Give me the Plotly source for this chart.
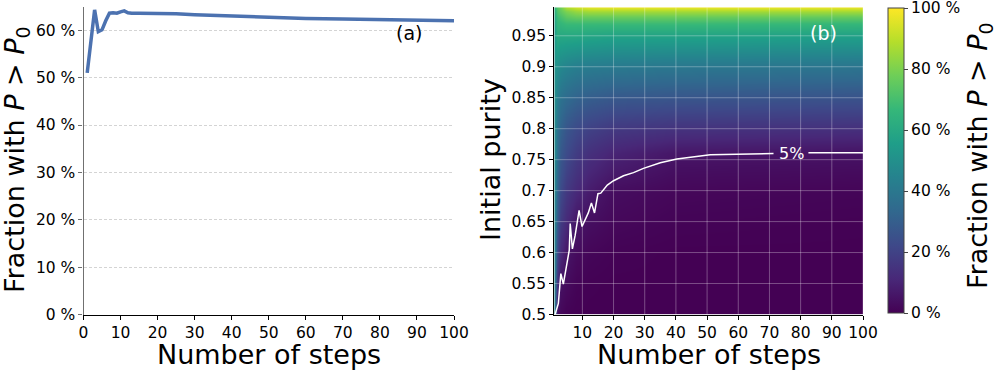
import plotly.graph_objects as go

# panel (a): fraction of runs with P > P0 vs number of steps
steps_a = [1, 2, 3, 4, 5, 6, 7, 8, 9, 10, 11, 12, 13, 15, 20, 25, 30, 40, 50, 60, 70, 80, 90, 100]
frac_a = [51.0, 58.0, 64.3, 59.7, 60.1, 62.0, 63.6, 63.7, 63.6, 63.9, 64.1, 63.7, 63.6, 63.6,
          63.6, 63.5, 63.3, 63.0, 62.7, 62.5, 62.4, 62.3, 62.2, 62.0]

# panel (b): fraction (%) on a coarse grid of steps x initial purity
grid_steps = [1, 2, 3, 5, 8, 12, 20, 40, 100]
grid_purity = [0.5, 0.55, 0.6, 0.65, 0.7, 0.73, 0.76, 0.8, 0.85, 0.9, 0.95, 0.97, 0.98, 0.99, 0.996]
frac_grid = [
    [46, 4, 2, 0.5, 0, 0, 0, 0, 0],
    [46, 14, 5, 3, 1, 0.3, 0, 0, 0],
    [47, 22, 12, 6, 3, 1.5, 0.5, 0, 0],
    [47, 28, 18, 12, 6, 4, 2, 0.8, 0.3],
    [48, 32, 23, 17, 12, 8, 3.5, 1.8, 1.2],
    [48, 34, 26, 20, 15, 11, 7, 3.5, 2.8],
    [49, 36, 28, 23, 18, 14, 10, 6, 5],
    [49, 38, 32, 27, 23, 20, 17, 15, 14],
    [50, 43, 38, 35, 32, 30, 28, 27, 26],
    [51, 50, 47, 45, 43, 42, 41, 40, 39],
    [54, 62, 60, 60, 60, 59, 58, 58, 57],
    [57, 66, 66, 68, 68, 68, 68, 68, 67],
    [59, 68, 70, 74, 76, 76, 76, 76, 75],
    [62, 72, 75, 80, 84, 86, 86, 86, 86],
    [64, 74, 78, 88, 93, 96, 97, 97, 97],
]

# 5% contour (gap left for its label)
contour_steps = [1.25, 2.3, 3.1, 3.9, 5.8, 6.1, 6.8, 7.7, 8.95, 9.9, 11.9, 12.9, 13.9, 15, 15.9,
                 18, 20, 23.2, 26.4, 29.6, 35, 40.3, 51, 61.7, 71.3, None, 82.5, 100]
contour_purity = [0.5, 0.518, 0.566, 0.549, 0.604, 0.647, 0.606, 0.628, 0.668, 0.642, 0.664,
                  0.680, 0.664, 0.695, 0.696, 0.709, 0.716, 0.724, 0.729, 0.736, 0.745, 0.751,
                  0.758, 0.759, 0.760, None, 0.761, 0.761]

pct_ticks = [0, 10, 20, 30, 40, 50, 60]
cbar_ticks = [0, 20, 40, 60, 80, 100]
steps_ticks_a = [0, 10, 20, 30, 40, 50, 60, 70, 80, 90, 100]
steps_ticks_b = [10, 20, 30, 40, 50, 60, 70, 80, 90, 100]
purity_ticks = [0.5, 0.55, 0.6, 0.65, 0.7, 0.75, 0.8, 0.85, 0.9, 0.95]

W, H = 996, 372
FONT = "DejaVu Sans"
TICK = 15.5
TITLE = 27


def px(x):
    return x / W


def py(y):
    return 1 - y / H


fig = go.Figure()
fig.add_trace(
    go.Scatter(
        x=steps_a, y=frac_a, mode="lines",
        line={"color": "#4C72B0", "width": 3.5},
        xaxis="x", yaxis="y", showlegend=False,
    )
)
fig.add_trace(
    go.Heatmap(
        x=grid_steps, y=grid_purity, z=frac_grid,
        colorscale="Viridis", zmin=0, zmax=100, zsmooth="best",
        xaxis="x2", yaxis="y2",
        colorbar={
            "x": px(887.7), "xanchor": "left", "xpad": 0,
            "y": py(8), "yanchor": "top", "ypad": 0,
            "len": 305 / H, "lenmode": "fraction", "thickness": 16,
            "outlinewidth": 1, "outlinecolor": "#444",
            "tickvals": cbar_ticks, "ticktext": [f"{v} %" for v in cbar_ticks],
            "ticks": "outside", "ticklen": 4, "tickfont": {"size": TICK},
            "ticklabeloverflow": "allow",
        },
    )
)
fig.add_trace(
    go.Scatter(
        x=contour_steps, y=contour_purity, mode="lines",
        line={"color": "white", "width": 1.5},
        xaxis="x2", yaxis="y2", showlegend=False, connectgaps=False,
    )
)

# grid lines drawn over the heatmap
shapes = []
for v in steps_ticks_b:
    shapes.append(dict(type="line", xref="x2", yref="y2 domain", x0=v, x1=v, y0=0, y1=1,
                       line={"color": "rgba(255,255,255,0.3)", "width": 1}, layer="above"))
for v in purity_ticks[1:]:
    shapes.append(dict(type="line", xref="x2 domain", yref="y2", x0=0, x1=1, y0=v, y1=v,
                       line={"color": "rgba(255,255,255,0.3)", "width": 1}, layer="above"))

ylab = "Fraction with <i>P</i> > <i>P</i><sub>0</sub>"
annotations = [
    dict(text="Number of steps", x=px(269), y=py(354), font={"size": TITLE}),
    dict(text="Number of steps", x=px(708.7), y=py(354), font={"size": TITLE}),
    dict(text=ylab, x=px(16), y=py(160), textangle=-90, font={"size": TITLE}),
    dict(text="Initial purity", x=px(490), y=py(160), textangle=-90, font={"size": TITLE}),
    dict(text=ylab, x=px(979), y=py(156), textangle=-90, font={"size": TITLE}),
    dict(text="(a)", x=px(409), y=py(33), font={"size": 19}),
    dict(text="(b)", x=px(823), y=py(33), font={"size": 19, "color": "white"}),
    dict(text="5%", x=77, y=0.76, xref="x2", yref="y2", font={"size": 16, "color": "white"}),
]
for a in annotations:
    a.setdefault("xref", "paper")
    a.setdefault("yref", "paper")
    a.update(showarrow=False, xanchor="center", yanchor="middle")

axis_common = dict(ticks="outside", ticklen=4, tickfont={"size": TICK}, tickcolor="black",
                   showline=True, linecolor="black", linewidth=1.2, zeroline=False,
                   automargin=False)

fig.update_layout(
    template="none",
    width=W, height=H,
    margin={"l": 0, "r": 0, "t": 0, "b": 0, "pad": 0, "autoexpand": False},
    paper_bgcolor="white", plot_bgcolor="white",
    font={"family": FONT, "color": "black"},
    xaxis=dict(domain=[px(83.5), px(454)], range=[0, 100], anchor="y",
               tickvals=steps_ticks_a, showgrid=False, **axis_common),
    yaxis=dict(domain=[py(314.5), py(7.3)], range=[0, 64.85], anchor="x",
               tickvals=pct_ticks, ticktext=[f"{v} %" for v in pct_ticks],
               showgrid=True, gridcolor="#d4d4d4", gridwidth=0.8, griddash="3px,2px",
               **{**axis_common, "linecolor": "#707070", "tickcolor": "#707070"}),
    xaxis2=dict(domain=[px(554.3), px(863)], range=[1, 100], anchor="y2",
                tickvals=steps_ticks_b, showgrid=False, **axis_common),
    yaxis2=dict(domain=[py(314.5), py(7.3)], range=[0.5, 0.996], anchor="x2",
                tickvals=purity_ticks, ticktext=[f"{v:g}" for v in purity_ticks],
                showgrid=False, **axis_common),
    shapes=shapes,
    annotations=annotations,
)

# the page body has a default 8 px margin; drop it so the figure fills the window
fig.write_html(
    "out.html",
    config={"displayModeBar": False},
    post_script="document.body.style.margin = '0px';",
)
